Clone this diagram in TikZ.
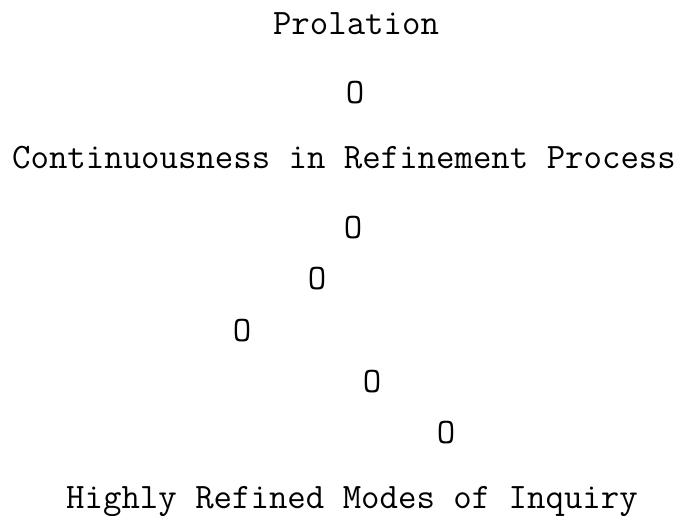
\documentclass[tikz,border=0pt]{standalone}
\usepackage{fontspec}
\tikzset{typed/.style={font=\ttfamily\fontsize{17.9pt}{20pt}\selectfont, inner sep=0pt, anchor=base}}
\begin{document}
\begin{tikzpicture}[x=0.5pt, y=-0.5pt]
    \useasboundingbox (0,0) rectangle (680,515);
    \node[typed] (prolation) at (356,34) {Prolation};
    \node[typed] (dot0) at (355,103) {O};
    \node[typed] (continuous) at (344,168) {Continuousness in Refinement Process};
    \node[typed] (dot1) at (353,238) {O};
    \node[typed] (dot2) at (317,289) {O};
    \node[typed] (dot3) at (242,341) {O};
    \node[typed] (dot4) at (372,392) {O};
    \node[typed] (dot5) at (446,443) {O};
    \node[typed] (refined) at (352,508) {Highly Refined Modes of Inquiry};
  \end{tikzpicture}
\end{document}
